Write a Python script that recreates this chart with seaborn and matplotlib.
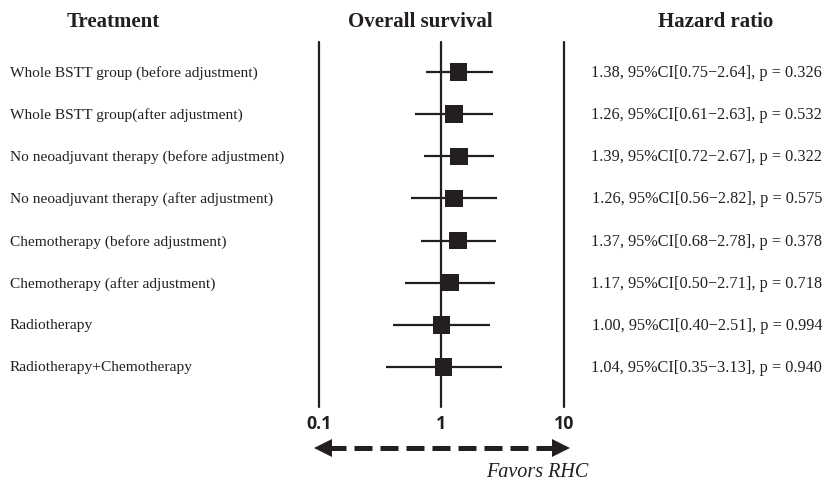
import matplotlib
matplotlib.use("Agg")
import matplotlib.pyplot as plt
import matplotlib.transforms as mtransforms
import numpy as np
import pandas as pd
import seaborn as sns

# Forest plot data
treatments = ['Whole BSTT group (before adjustment)',
              'Whole BSTT group(after adjustment)',
              'No neoadjuvant therapy (before adjustment)',
              'No neoadjuvant therapy (after adjustment)',
              'Chemotherapy (before adjustment)',
              'Chemotherapy (after adjustment)',
              'Radiotherapy',
              'Radiotherapy+Chemotherapy']
hr = [1.38, 1.26, 1.39, 1.26, 1.37, 1.17, 1.00, 1.04]
ci_low = [0.75, 0.61, 0.72, 0.56, 0.68, 0.50, 0.40, 0.35]
ci_high = [2.64, 2.63, 2.67, 2.82, 2.78, 2.71, 2.51, 3.13]
pvals = ['0.326', '0.532', '0.322', '0.575', '0.378', '0.718', '0.994', '0.940']
ticks = [0.1, 1, 10]

df = pd.DataFrame({'treatment': treatments, 'hr': hr, 'lo': ci_low, 'hi': ci_high,
                   'p': pvals, 'row': range(len(treatments))})

sns.set_style("white")
plt.rcParams['font.family'] = ['Liberation Serif', 'DejaVu Serif']

W, H = 824, 481
fig = plt.figure(figsize=(W / 100, H / 100), dpi=100)
# axes spans 0.1 .. 10 horizontally, vertical lines from y=43 to y=408 px
ax = fig.add_axes([319 / W, 1 - 408 / H, (564 - 319) / W, (408 - 43) / H])
ax.set_xscale('log')
ax.set_xlim(0.1, 10)
ax.set_ylim(7 + 40 / 42.14, -30 / 42.14)
for s in ax.spines.values():
    s.set_visible(False)
ax.set_yticks([])
ax.set_xticks([])
ax.minorticks_off()

col = '#231f20'
for t in ticks:
    ax.axvline(t, color=col, lw=1.6, zorder=1, clip_on=False)

ax.hlines(df['row'], df['lo'], df['hi'], color=col, lw=1.6, zorder=2)
sns.scatterplot(data=df, x='hr', y='row', marker='s', s=160,
                color=col, edgecolor='none', ax=ax, zorder=3, legend=False)
ax.set_xlabel('')
ax.set_ylabel('')

# tick labels
btr = mtransforms.blended_transform_factory(ax.transData, ax.transAxes)
for t in ticks:
    ax.text(t, 1 - (424 - 43) / (408 - 43), '{:g}'.format(t), transform=btr,
            ha='center', va='center', fontsize=12.8, fontweight='bold',
            family=['Open Sans', 'DejaVu Sans'], color=col)

# dashed double arrow
ay = 1 - (449 - 43) / (408 - 43)
ax.plot([0.118, 8.4], [ay, ay], transform=btr, color=col, lw=3.6,
        ls=(0, (3.6, 1.6)), clip_on=False, dash_capstyle='butt')
ax.plot([0.108], [ay], transform=btr, marker='<', ms=13, color=col, clip_on=False, mew=0)
ax.plot([9.5], [ay], transform=btr, marker='>', ms=13, color=col, clip_on=False, mew=0)

fig.text(537 / W, 1 - 473 / H, 'Favors RHC', ha='center', va='center',
         fontsize=14.5, style='italic', color=col)

# headers
fig.text(113 / W, 1 - 22 / H, 'Treatment', ha='center', va='center',
         fontsize=15, fontweight='bold', color=col)
fig.text(420 / W, 1 - 22 / H, 'Overall survival', ha='center', va='center',
         fontsize=15, fontweight='bold', color=col)
fig.text(716 / W, 1 - 22 / H, 'Hazard ratio', ha='center', va='center',
         fontsize=15, fontweight='bold', color=col)

# row texts
tl = mtransforms.blended_transform_factory(fig.transFigure, ax.transData)
for _, r in df.iterrows():
    ax.text(10 / W, r['row'], r['treatment'], transform=tl, ha='left', va='center',
            fontsize=11.1, color=col)
    ax.text(822 / W, r['row'],
            '{:.2f}, 95%CI[{:.2f}\u2212{:.2f}], p = {}'.format(r['hr'], r['lo'], r['hi'], r['p']),
            transform=tl, ha='right', va='center', fontsize=11.7, color=col)

fig.savefig('out.png', dpi=100, facecolor='white')
